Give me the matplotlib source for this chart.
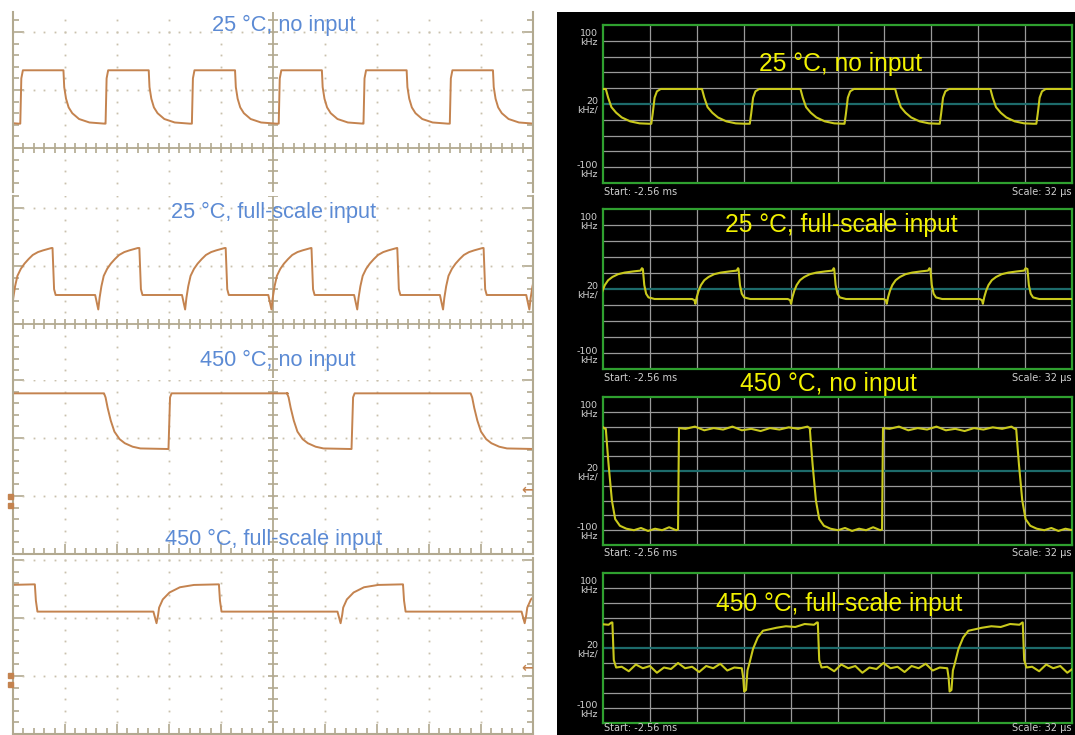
import numpy as np
import matplotlib
matplotlib.use("Agg")
import matplotlib.pyplot as plt
from matplotlib.patches import Rectangle

# ---- data ----
# left scope traces: time in divisions (-5..5), level in divisions from centre line
# each trace = one period template repeated at the listed edge times
L1_EDGES = [-6.51, -4.86, -3.22, -1.56, 0.11, 1.74, 3.40]          # rising edges
L1_T = [0, 0.02, 0.05, 0.83, 0.845, 0.88, 0.93, 1.0, 1.13, 1.33, 1.62]
L1_V = [0.42, 1.2, 1.34, 1.34, 1.05, 0.85, 0.7, 0.6, 0.5, 0.44, 0.42]

L2_EDGES = [-5.90, -4.24, -2.57, -0.91, 0.74, 2.39, 4.05]           # falling edges
L2_T = [0, 0.03, 0.06, 0.82, 0.88, 0.905, 0.94, 0.985, 1.05, 1.12, 1.2, 1.28, 1.38, 1.48, 1.64]
L2_V = [1.31, 0.6, 0.5, 0.5, 0.25, 0.45, 0.65, 0.83, 0.95, 1.04, 1.12, 1.19, 1.24, 1.27, 1.31]

L3_EDGES = [-6.78, -3.25, 0.27, 3.80]                               # falling edges
L3_T = [0, 0.03, 0.07, 0.13, 0.2, 0.3, 0.4, 0.55, 0.7, 1.24, 1.27, 1.3, 3.53]
L3_V = [-1.23, -1.3, -1.48, -1.7, -1.89, -2.02, -2.09, -2.15, -2.18, -2.19, -1.3, -1.23, -1.23]

L4_EDGES = [-8.12, -4.58, -1.04, 2.50]                              # falling edges
L4_T = [0, 0.02, 0.05, 2.28, 2.34, 2.37, 2.39, 2.46, 2.59, 2.79, 3.06, 3.52]
L4_V = [-1.42, -1.7, -1.89, -1.89, -2.09, -1.95, -1.82, -1.68, -1.56, -1.47, -1.43, -1.42]

# right analyser traces: time in divisions (0..10), frequency deviation in kHz
R1_EDGES = [-1.02, 1.03, 3.13, 5.15, 7.18, 9.24]                    # rising edges
R1_T = [0, 0.03, 0.07, 0.12, 0.2, 1.08, 1.13, 1.2, 1.3, 1.42, 1.6, 1.8, 2.0]
R1_V = [-25, -12, 8, 16, 19, 19, 8, -4, -11, -17, -22, -24.5, -25]

R2_EDGES = [-1.2, 0.85, 2.89, 4.93, 6.98, 9.05]                     # falling edges
R2_T = [0, 0.03, 0.07, 0.12, 0.25, 1.05, 1.1, 1.12, 1.15, 1.19, 1.24, 1.31, 1.4, 1.52, 1.66, 1.85, 2.0, 2.03]
R2_V = [25, 5, -6, -10.5, -12.5, -12.5, -14, -18.5, -10, -2, 5, 11, 15, 18.5, 20.5, 22, 23, 26]

R3_EDGES = [-4.32, 0.06, 4.41, 8.81]                                # falling edges
R3_T = [0, 0.02, 0.06, 0.13, 0.2, 0.3, 0.44, 0.6, 0.75, 0.9, 1.05, 1.2, 1.35, 1.5, 1.54, 1.56,
        1.7, 1.9, 2.1, 2.3, 2.5, 2.7, 2.9, 3.1, 3.3, 3.5, 3.7, 3.9, 4.1, 4.3, 4.37]
R3_V = [57, 40, 8, -40, -65, -74, -78, -80, -77, -81, -78, -80, -76, -80, -79, 58,
        57, 60, 55, 58, 56, 60, 55, 57, 54, 58, 56, 59, 57, 60, 57]

R4_EDGES = [-4.18, 0.2, 4.58, 8.95]                                 # falling edges
R4_T = [0, 0.03, 0.08, 0.2, 0.35, 0.5, 0.65, 0.8, 0.95, 1.1, 1.25, 1.4, 1.55, 1.7, 1.85, 2.0,
        2.15, 2.3, 2.45, 2.6, 2.76, 2.79, 2.81, 2.85, 2.88, 2.92, 3.0, 3.1, 3.21, 3.35, 3.5,
        3.7, 3.9, 4.1, 4.3, 4.36]
R4_V = [34, -16, -26, -25, -31, -22, -27, -24, -33, -26, -28, -20, -27, -25, -32, -24,
        -27, -21, -30, -26, -27, -40, -58, -56, -30, -21, -1, 14, 23, 25, 27, 29, 28, 32, 31, 34]

LEFT_TITLES = ["25 °C, no input", "25 °C, full-scale input",
               "450 °C, no input", "450 °C, full-scale input"]
RIGHT_TITLES = LEFT_TITLES

W, H = 1075, 735
fig = plt.figure(figsize=(W / 100, H / 100), dpi=100)
fig.patch.set_facecolor("white")

# black backdrop of the analyser screenshots (drawn first, behind everything)
bg = fig.add_axes([557 / W, 0, (W - 557) / W, 1 - 12 / H])
bg.set_facecolor("black")
bg.set_xticks([])
bg.set_yticks([])
for s in bg.spines.values():
    s.set_visible(False)


def px_axes(x0, y0, x1, y1):
    return fig.add_axes([x0 / W, 1 - y1 / H, (x1 - x0) / W, (y1 - y0) / H])


def ftext(x, y, s, **kw):
    fig.text(x / W, 1 - y / H, s, **kw)


def build(edges, tt, vv):
    t, v = [], []
    for e in edges:
        t += [e + a for a in tt]
        v += vv
    return t, v


trace_c = "#c4834f"
frame_c = "#b2a990"
dot_c = "#c9c1ad"
blue = "#5b8ad4"

# left scope panels: (top px, bottom px, centre px, bottom border?)
left_layout = [(12, 192, 148, False), (196, 378, 324, False),
               (380, 554, 322, True), (558, 734, 502, True)]
left_data = [(L1_EDGES, L1_T, L1_V), (L2_EDGES, L2_T, L2_V),
             (L3_EDGES, L3_T, L3_V), (L4_EDGES, L4_T, L4_V)]
div = 58.0

for (top, bot, cen, border), (e, tt, vv) in zip(left_layout, left_data):
    ax = px_axes(13, top, 533, bot)
    lo, hi = (cen - bot) / div, (cen - top) / div
    ax.set_xlim(-5, 5)
    ax.set_ylim(lo, hi)
    ax.patch.set_alpha(0)
    for s in ["left", "right"]:
        ax.spines[s].set_color(frame_c)
        ax.spines[s].set_linewidth(1.5)
    ax.spines["top"].set_visible(False)
    ax.spines["bottom"].set_visible(border)
    ax.spines["bottom"].set_color(frame_c)
    ax.spines["bottom"].set_linewidth(1.5)

    ax.set_yticks([k for k in range(-5, 4) if lo <= k <= hi])
    ax.set_yticks(np.arange(np.ceil(lo * 5) / 5, hi + 0.01, 0.2), minor=True)
    ax.tick_params(axis="y", which="both", direction="in", left=True, right=True,
                   labelleft=False, color=frame_c, width=1.2)
    ax.tick_params(axis="y", which="major", length=8)
    ax.tick_params(axis="y", which="minor", length=4)
    if border:
        ax.set_xticks(range(-5, 6))
        ax.set_xticks(np.arange(-5, 5.01, 0.2), minor=True)
        ax.tick_params(axis="x", which="both", direction="in", bottom=True, top=False,
                       labelbottom=False, color=frame_c, width=1.2)
        ax.tick_params(axis="x", which="major", length=7)
        ax.tick_params(axis="x", which="minor", length=4)
    else:
        ax.set_xticks([])

    # dotted graticule
    xs = np.arange(-5, 5.01, 0.2)
    for r in range(-5, 4):
        if r != 0 and lo < r < hi + 0.01:
            ax.plot(xs, [r] * len(xs), ls="none", marker="s", ms=1.3, color=dot_c, mew=0)
    ys = np.arange(np.ceil(lo * 5) / 5, hi + 0.01, 0.2)
    for c in range(-4, 5):
        if c != 0:
            ax.plot([c] * len(ys), ys, ls="none", marker="s", ms=1.3, color=dot_c, mew=0)
    # centre cross with ticks
    ax.axvline(0, color=frame_c, lw=1.3)
    ax.plot([0] * len(ys), ys, ls="none", marker="_", ms=7, mew=1.2, color=frame_c)
    if lo < 0 < hi:
        ax.axhline(0, color=frame_c, lw=1.3)
        ax.plot(xs, [0] * len(xs), ls="none", marker="|", ms=7, mew=1.2, color=frame_c)

    t, v = build(e, tt, vv)
    ax.plot(t, v, color=trace_c, lw=1.4)

# ground markers / arrows on the lower two scope panels
for y in (493, 672):
    fig.patches.append(Rectangle((8 / W, 1 - (y + 6) / H), 5 / W, 5 / H,
                                 transform=fig.transFigure, color=trace_c))
    fig.patches.append(Rectangle((8 / W, 1 - (y + 15) / H), 5 / W, 5 / H,
                                 transform=fig.transFigure, color=trace_c))
for y in (490, 668):
    ftext(527, y, "←", color=trace_c, fontsize=10, fontweight="bold",
          ha="center", va="center")

left_title_pos = [(284, 31), (273.5, 218), (278, 366), (273.5, 545.5)]
for (x, y), s in zip(left_title_pos, LEFT_TITLES):
    ftext(x, y, s, color=blue, fontsize=15.7, family="Liberation Sans",
          ha="center", va="baseline")

# right analyser panels
right_layout = [(25, 183, 192), (209, 369, 378), (397, 545, 553), (573, 723, 728)]
right_data = [(R1_EDGES, R1_T, R1_V), (R2_EDGES, R2_T, R2_V),
              (R3_EDGES, R3_T, R3_V), (R4_EDGES, R4_T, R4_V)]
grey = "#cfcfcf"

for (top, bot, ybot), (e, tt, vv) in zip(right_layout, right_data):
    ax = px_axes(603, top, 1072, bot)
    ax.set_facecolor("black")
    ax.set_xlim(0, 10)
    ax.set_ylim(-100, 100)
    for s in ax.spines.values():
        s.set_color("#2fa02f")
        s.set_linewidth(1.6)
    ax.set_xticks([])
    ax.set_yticks([])
    for k in range(1, 10):
        ax.axvline(k, color="#9a9a9a", lw=0.9, zorder=1)
    for k in range(-80, 100, 20):
        if k != 0:
            ax.axhline(k, color="#9a9a9a", lw=0.9, zorder=1)
    ax.axhline(0, color="#1d6b6b", lw=1.6, zorder=1)
    t, v = build(e, tt, vv)
    ax.plot(t, v, color="#c9c91c", lw=1.5, zorder=3)

    ftext(598, top + 13, "100\nkHz", color=grey, fontsize=6.8, ha="right",
          va="center", linespacing=0.95)
    ftext(598, (top + bot) / 2 + 2, "20\nkHz/", color=grey, fontsize=6.8, ha="right",
          va="center", linespacing=0.95)
    ftext(598, bot - 13, "-100\nkHz", color=grey, fontsize=6.8, ha="right",
          va="center", linespacing=0.95)
    ftext(604, ybot, "Start: -2.56 ms", color=grey, fontsize=7, ha="left", va="center")
    ftext(1012, ybot, "Scale: 32 µs", color=grey, fontsize=7, ha="left", va="center")

right_title_pos = [(841, 71), (841.5, 232), (828.5, 390.5), (839.5, 610.5)]
for (x, y), s in zip(right_title_pos, RIGHT_TITLES):
    ftext(x, y, s, color="#f2f200", fontsize=17.7, family="Liberation Sans",
          ha="center", va="baseline", zorder=10)

fig.savefig("out.png", dpi=100, facecolor="white")
